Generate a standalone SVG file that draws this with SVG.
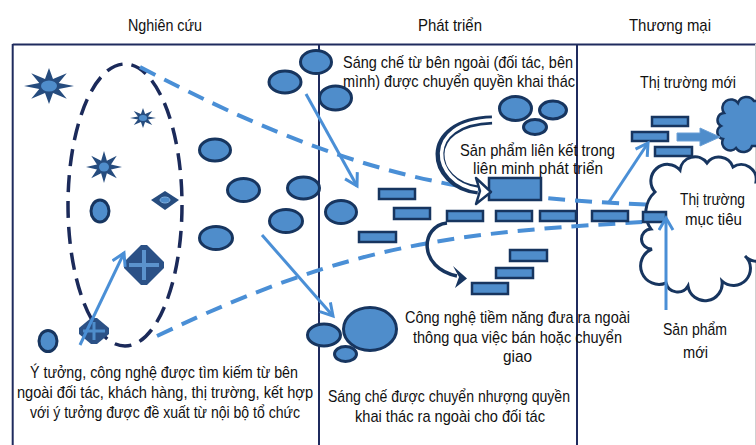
<svg xmlns="http://www.w3.org/2000/svg" xmlns:xlink="http://www.w3.org/1999/xlink" width="756" height="445" viewBox="0 0 756 445">
<style>
.frame{stroke:#1f2b5e;stroke-width:2;fill:none}
.ell{stroke:#1b2a5a;stroke-width:3.5;fill:none;stroke-dasharray:17 9}
.dash{stroke:#4a8fd6;stroke-width:4;fill:none;stroke-dasharray:17 10}
.arr{stroke:#4a8fd6;stroke-width:3;fill:none;marker-end:url(#ah)}
.o{fill:#4f8dcb;stroke:#17355f;stroke-width:3}
.r{fill:#4f8dcb;stroke:#17355f;stroke-width:2.5}
.dk{fill:#264c7e}
.lt{fill:#4f8dcb}
.t{font-family:"Liberation Sans Narrow","Liberation Sans",sans-serif;font-size:17px;fill:#111}
</style>
<defs>
<polygon id="star" points="1,0 0.39,0.16 0.71,0.71 0.16,0.39 0,1 -0.16,0.39 -0.71,0.71 -0.39,0.16 -1,0 -0.39,-0.16 -0.71,-0.71 -0.16,-0.39 0,-1 0.16,-0.39 0.71,-0.71 0.39,-0.16"/>
<marker id="ah" markerWidth="18" markerHeight="18" refX="14" refY="8" orient="auto" markerUnits="userSpaceOnUse">
<path d="M2,1 L14,8 L2,15" fill="none" stroke="#4a8fd6" stroke-width="3"/>
</marker>
</defs>
<rect width="756" height="445" fill="#fff"/>

<g id="frame">
<line class="frame" x1="12.7" y1="44.5" x2="756" y2="44.5"/>
<line class="frame" x1="12.7" y1="44" x2="12.7" y2="445"/>
<line class="frame" x1="319" y1="44" x2="319" y2="445"/>
<line class="frame" x1="577" y1="44" x2="577" y2="445"/>
<line x1="755.5" y1="44" x2="755.5" y2="445" stroke="#d0d0d0" stroke-width="1"/>
</g>

<g id="headers">
<text class="t" x="128" y="31" textLength="74" lengthAdjust="spacingAndGlyphs">Nghiên cứu</text>
<text class="t" x="418" y="31" textLength="64" lengthAdjust="spacingAndGlyphs">Phát triển</text>
<text class="t" x="629" y="31" textLength="82" lengthAdjust="spacingAndGlyphs">Thương mại</text>
</g>

<g id="idea-pool">
<ellipse class="ell" cx="125" cy="205" rx="57" ry="141"/>
</g>

<g id="connectors">
<path class="dash" d="M 140 67 C 343 173, 455 197, 655 205"/>
<path class="dash" d="M 157 336 C 357 240, 462 232, 662 221"/>
</g>

<g id="target-market">
<path d="M 655 192 A 15 15 0 0 1 680 170 A 15 15 0 0 1 707 163 A 15 15 0 0 1 733 167 A 15 15 0 0 1 756 182 L 772 182 L 772 240 A 16 16 0 0 1 745 256 A 12 12 0 0 1 722 281 A 14 14 0 0 1 688 286 A 12 12 0 0 1 666 283 A 11 11 0 0 1 652 249 A 10 10 0 0 1 651 229 A 28 28 0 0 1 655 192 Z" fill="#fff" stroke="#17355f" stroke-width="3"/>
<text class="t" x="680" y="205" textLength="65" lengthAdjust="spacingAndGlyphs">Thị trường</text>
<text class="t" x="685" y="225" textLength="57" lengthAdjust="spacingAndGlyphs">mục tiêu</text>
</g>

<g id="new-market">
<path d="M 724 113 A 8 8 0 0 1 738 103 A 9 9 0 0 1 754 101 L 766 101 L 766 146 L 752 146 A 9 9 0 0 1 736 148 A 8 8 0 0 1 723 139 A 7 7 0 0 1 721 126 A 7 7 0 0 1 724 113 Z" fill="#4f8dcb" stroke="#17355f" stroke-width="2.5"/>
<text class="t" x="640" y="88" textLength="96" lengthAdjust="spacingAndGlyphs">Thị trường mới</text>
</g>

<g id="research-shapes">
<use href="#star" class="dk" transform="translate(49 86) scale(25 18)"/>
<ellipse cx="49" cy="86" rx="8" ry="5.5" class="lt"/>
<use href="#star" class="dk" transform="translate(143 118) scale(13 10)"/>
<ellipse cx="143" cy="118" rx="4" ry="3" class="lt"/>
<use href="#star" class="dk" transform="translate(104 167) scale(18 16)"/>
<ellipse cx="104" cy="167" rx="5" ry="4.5" class="lt"/>
<ellipse class="o" cx="100" cy="211" rx="9" ry="11" stroke-width="2.5"/>
<ellipse class="o" cx="48" cy="341" rx="9" ry="10.5" stroke-width="2.5"/>
<polygon class="dk" points="151,200 165,191 179,200 165,210"/>
<ellipse cx="165" cy="200" rx="5" ry="3" fill="#4f8dcb" stroke="#7fb0e0" stroke-width="1"/>
<polygon points="141,245 147,245 164,262 164,268 147,285 141,285 124,268 124,262" fill="#2b5186"/>
<rect x="142" y="250" width="4" height="30" fill="#5b93cc"/>
<rect x="129" y="263" width="30" height="4" fill="#5b93cc"/>
<polygon points="91,318 97,318 109,328 109,334 97,344 91,344 79,334 79,328" fill="#2b5186"/>
<rect x="92.5" y="322" width="3" height="18" fill="#4f8dcb"/>
<rect x="83" y="329.5" width="22" height="3" fill="#4f8dcb"/>
</g>

<g id="ideas">
<ellipse class="o" cx="285" cy="82" rx="16" ry="11"/>
<ellipse class="o" cx="316" cy="62" rx="15.5" ry="11.5"/>
<ellipse class="o" cx="335.5" cy="98" rx="16" ry="12"/>
<ellipse class="o" cx="215" cy="150" rx="15.5" ry="11"/>
<ellipse class="o" cx="243.5" cy="190" rx="16" ry="11.5"/>
<ellipse class="o" cx="303.5" cy="188" rx="16" ry="11"/>
<ellipse class="o" cx="286" cy="221" rx="16.5" ry="11.5"/>
<ellipse class="o" cx="216" cy="238" rx="16.5" ry="11.5"/>
<ellipse class="o" cx="341" cy="212" rx="15.5" ry="11.5"/>
</g>

<g id="licensed-out">
<ellipse class="o" cx="324" cy="335" rx="16.5" ry="11"/>
<ellipse class="o" cx="370" cy="329" rx="26.5" ry="21.5"/>
<ellipse class="o" cx="345.5" cy="354" rx="11" ry="7.5"/>
</g>

<g id="alliance-ideas">
<ellipse class="o" cx="515.5" cy="108.5" rx="16" ry="12"/>
<ellipse class="o" cx="553" cy="110" rx="13.5" ry="9"/>
<ellipse class="o" cx="535" cy="127" rx="11.5" ry="7.5"/>
</g>

<g id="projects">
<rect class="r" x="379" y="189" width="36" height="10"/>
<rect class="r" x="394" y="208" width="36" height="11"/>
<rect class="r" x="359" y="232" width="37" height="10"/>
<rect class="r" x="447" y="211" width="36" height="10"/>
<rect class="r" x="496" y="211" width="36" height="10"/>
<rect class="r" x="540" y="211" width="36" height="10"/>
<rect class="r" x="592" y="211" width="36" height="10"/>
<rect class="r" x="643" y="212" width="23" height="10"/>
<rect class="r" x="489" y="178" width="52" height="22"/>
<rect class="r" x="510" y="250" width="37" height="11"/>
<rect class="r" x="496" y="268" width="37" height="10"/>
<rect class="r" x="472" y="283" width="36" height="11"/>
<rect class="r" x="652" y="117" width="36" height="9"/>
<rect class="r" x="632" y="132" width="36" height="9"/>
<rect class="r" x="655" y="147" width="37" height="9"/>
</g>

<g id="arrows">
<path class="arr" d="M 80 345 L 124 253"/>
<path class="arr" d="M 306 94 L 357 186"/>
<path class="arr" d="M 262 235 L 333 316"/>
<path class="arr" d="M 609 202 L 648 143"/>
<path class="arr" d="M 666 310 L 666 218"/>
<polygon points="677,133 700,133 700,128 720,137 700,146 700,141 677,141" fill="#4f8dcb" stroke="#6a9fd6" stroke-width="1"/>
<path d="M 492 120 C 420 122, 430 185, 478 190" fill="none" stroke="#17355f" stroke-width="9"/>
<path d="M 492.5 120 C 422 122, 432 183, 478 189.5" fill="none" stroke="#fff" stroke-width="3.5"/>
<polygon points="476,178 491,192 476,204 480,191" fill="#fff" stroke="#17355f" stroke-width="2.5" stroke-linejoin="round"/>
<path d="M 447 223 C 420 226, 418 268, 457 276" fill="none" stroke="#17355f" stroke-width="3.5"/>
<polygon points="467,278.5 453,266 459,277 455,288" fill="#17355f"/>
</g>

<g id="labels">
<text class="t" x="343" y="68" textLength="230" lengthAdjust="spacingAndGlyphs">Sáng chế từ bên ngoài (đối tác, bên</text>
<text class="t" x="343" y="87" textLength="232" lengthAdjust="spacingAndGlyphs">mình) được chuyển quyền khai thác</text>
<text class="t" x="460" y="156" textLength="155" lengthAdjust="spacingAndGlyphs">Sản phẩm liên kết trong</text>
<text class="t" x="473" y="174" textLength="130" lengthAdjust="spacingAndGlyphs">liên minh phát triển</text>
<text class="t" x="663" y="335" textLength="64" lengthAdjust="spacingAndGlyphs">Sản phẩm</text>
<text class="t" x="683" y="358" textLength="25" lengthAdjust="spacingAndGlyphs">mới</text>
<text class="t" x="405" y="323" textLength="225" lengthAdjust="spacingAndGlyphs">Công nghệ tiềm năng đưa ra ngoài</text>
<text class="t" x="413" y="343" textLength="209" lengthAdjust="spacingAndGlyphs">thông qua việc bán hoặc chuyển</text>
<text class="t" x="503" y="362" textLength="29" lengthAdjust="spacingAndGlyphs">giao</text>
<text class="t" x="328" y="402" textLength="242" lengthAdjust="spacingAndGlyphs">Sáng chế được chuyển nhượng quyền</text>
<text class="t" x="355" y="422" textLength="190" lengthAdjust="spacingAndGlyphs">khai thác ra ngoài cho đối tác</text>
<text class="t" x="30" y="378" textLength="268" lengthAdjust="spacingAndGlyphs">Ý tưởng, công nghệ được tìm kiếm từ bên</text>
<text class="t" x="17" y="398" textLength="296" lengthAdjust="spacingAndGlyphs">ngoài đối tác, khách hàng, thị trường, kết hợp</text>
<text class="t" x="30" y="418" textLength="270" lengthAdjust="spacingAndGlyphs">với ý tưởng được đề xuất từ nội bộ tổ chức</text>
</g>
</svg>
